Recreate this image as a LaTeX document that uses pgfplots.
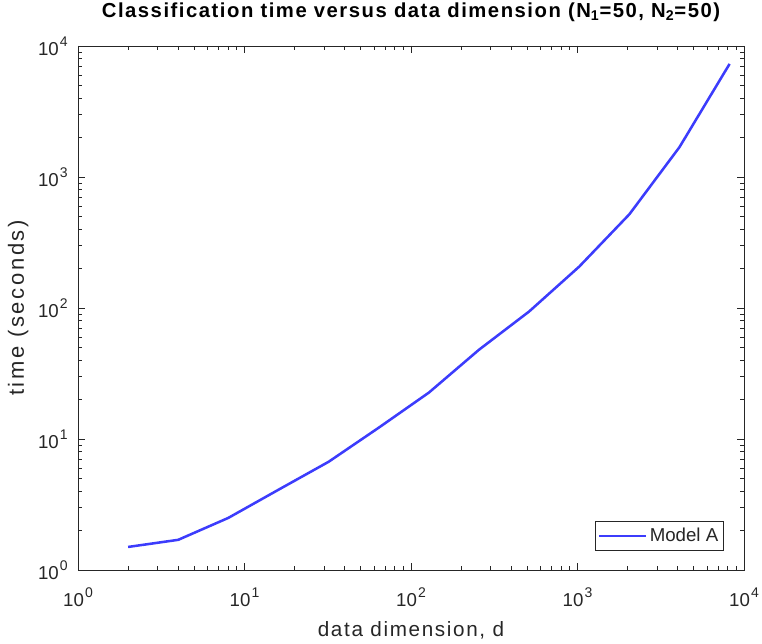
\documentclass[border=0pt]{standalone}
\usepackage{fontspec}
\setmainfont{Liberation Sans}
\usepackage{pgfplots}
\pgfplotsset{compat=1.18}
\definecolor{lineblue}{RGB}{60,60,252}
\definecolor{axgray}{RGB}{38,38,38}
\newcommand\ex[1]{10\kern0.8pt\raisebox{6.7pt}{\fontsize{10.5}{12}\selectfont #1}}

\begin{document}
\begin{tikzpicture}
\useasboundingbox (-58.5pt,-54.75pt) rectangle (513pt,427.5pt);
\begin{loglogaxis}[
  at={(0,0)}, anchor=south west,
  scale only axis,
  width=499.5pt, height=393pt,
  xmin=1, xmax=10000, ymin=1, ymax=10000,
  xtick={1,10,100,1000,10000},
  xticklabels={\ex{0},\ex{1},\ex{2},\ex{3},\ex{4}},
  ytick={1,10,100,1000,10000},
  yticklabels={\ex{0},\ex{1},\ex{2},\ex{3},\ex{4}},
  tick label style={font=\fontsize{14}{17}\selectfont, color=axgray, inner sep=0pt},
  xticklabel style={anchor=base, yshift=-27pt},
  yticklabel style={anchor=east, xshift=-7.5pt},
  tick align=inside,
  major tick length=5pt, minor tick length=3pt,
  every tick/.style={axgray, line width=0.6pt},
  axis line style={axgray, line width=0.7pt},
  title={Classification time versus data dimension (N\textsubscript{1}=50, N\textsubscript{2}=50)},
  title style={font=\fontsize{15.2}{18}\selectfont\bfseries\addfontfeatures{LetterSpace=7.5},
    at={(0.5,1)}, anchor=base, yshift=15.5pt, inner sep=0pt},
  xlabel={data dimension, d},
  xlabel style={font=\fontsize{15.5}{18}\selectfont\addfontfeatures{LetterSpace=8},
    color=axgray, at={(0.5,0)}, anchor=base, yshift=-50pt, inner sep=0pt},
  ylabel={time (seconds)},
  every axis y label/.style={at={(0,0.5)}, xshift=-40.5pt, rotate=90, anchor=base,
    font=\fontsize{16.5}{19}\selectfont\addfontfeatures{LetterSpace=12},
    color=axgray, inner sep=0pt},
  legend style={at={(0.97,0.0363)}, anchor=south east,
    font=\fontsize{14}{17}\selectfont, text=axgray, draw=axgray, line width=0.7pt,
    inner xsep=2pt, inner ysep=3pt},
  legend image code/.code={\draw[#1] (0pt,0pt) -- (35pt,0pt);},
  legend cell align=left,
]
\addplot[lineblue, line width=1.9pt] coordinates {
  (2,1.50) (4,1.70) (8,2.5) (16,4.1) (32,6.7) (64,12.2) (128,22.6)
  (256,48) (512,94) (1024,207) (2048,519) (4096,1690) (8192,7300)
};
\addlegendentry{Model A}
\end{loglogaxis}
\end{tikzpicture}
\end{document}
